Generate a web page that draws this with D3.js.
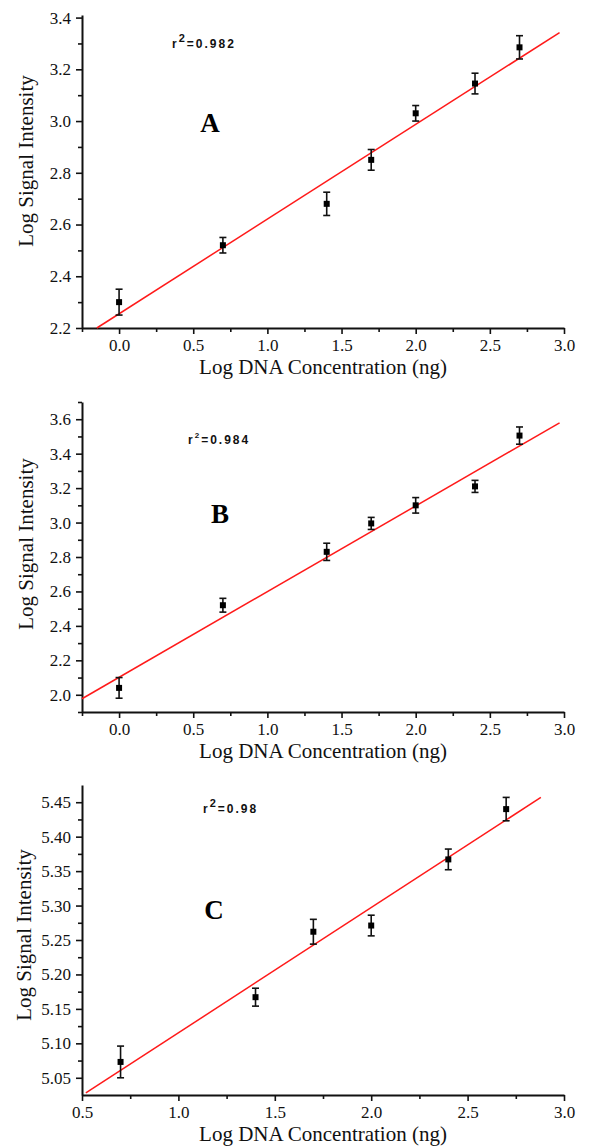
<!DOCTYPE html>
<html>
<head>
<meta charset="utf-8">
<script src="https://cdn.jsdelivr.net/npm/d3@7"></script>
<style>
  body { margin: 0; background: #fff; }
  svg { display: block; }
  .tick text { font-family: "Liberation Serif", "Times New Roman", serif; font-size: 17px; fill: #111; }
  .domain { stroke: #111; stroke-width: 2; }
  .tick line { stroke: #111; stroke-width: 1.6; }
</style>
</head>
<body>
<div id="chart"></div>
<script>
// concentration points (log ng)
var concAB = [0, 0.7, 1.4, 1.7, 2.0, 2.4, 2.7];
var concC = [0.7, 1.4, 1.7, 2.0, 2.4, 2.7];

// log signal intensity
var signalA = [2.30, 2.52, 2.68, 2.85, 3.03, 3.145, 3.285];
var errorA = [0.05, 0.03, 0.045, 0.04, 0.03, 0.04, 0.045];
var signalB = [2.04, 2.52, 2.83, 2.995, 3.10, 3.21, 3.505];
var errorB = [0.06, 0.04, 0.05, 0.035, 0.045, 0.035, 0.05];
var signalC = [5.073, 5.167, 5.262, 5.271, 5.367, 5.440];
var errorC = [0.023, 0.013, 0.018, 0.015, 0.015, 0.017];

// ends of the red fit lines [x, y]
var fitA = [[-0.15, 2.20], [2.97, 3.342]];
var fitB = [[-0.25, 1.977], [2.97, 3.579]];
var fitC = [[0.52, 5.028], [2.88, 5.457]];

// ticks
var xTicksAB = [0, 0.5, 1.0, 1.5, 2.0, 2.5, 3.0];
var xMinorAB = [-0.25, 0.25, 0.75, 1.25, 1.75, 2.25, 2.75];
var xTicksC = [0.5, 1.0, 1.5, 2.0, 2.5, 3.0];
var xMinorC = [0.75, 1.25, 1.75, 2.25, 2.75];
var yTicksA = [2.2, 2.4, 2.6, 2.8, 3.0, 3.2, 3.4];
var yMinorA = [2.3, 2.5, 2.7, 2.9, 3.1, 3.3];
var yTicksB = [2.0, 2.2, 2.4, 2.6, 2.8, 3.0, 3.2, 3.4, 3.6];
var yMinorB = [1.9, 2.1, 2.3, 2.5, 2.7, 2.9, 3.1, 3.3, 3.5, 3.7];
var yTicksC = [5.05, 5.10, 5.15, 5.20, 5.25, 5.30, 5.35, 5.40, 5.45];
var yMinorC = [5.075, 5.125, 5.175, 5.225, 5.275, 5.325, 5.375, 5.425];

var panelNames = ["A", "B", "C"];
var r2Labels = ["0.982", "0.984", "0.98"];

var svg = d3.select("#chart")
    .append("svg")
    .attr("width", 590)
    .attr("height", 1146);

var panels = [
  { name: panelNames[0], r2: r2Labels[0], x: concAB, y: signalA, err: errorA, fit: fitA,
    xDom: [-0.25, 3.0], yDom: [2.2, 3.41], top: 15, bottom: 328,
    xT: xTicksAB, xM: xMinorAB, yT: yTicksA, yM: yMinorA, yFmt: ".1f",
    letterPos: [210, 132], r2Pos: [172, 48], yTitle: [33, 161] },
  { name: panelNames[1], r2: r2Labels[1], x: concAB, y: signalB, err: errorB, fit: fitB,
    xDom: [-0.25, 3.0], yDom: [1.9, 3.7], top: 402, bottom: 712,
    xT: xTicksAB, xM: xMinorAB, yT: yTicksB, yM: yMinorB, yFmt: ".1f",
    letterPos: [220, 523], r2Pos: [188, 444], yTitle: [33, 544] },
  { name: panelNames[2], r2: r2Labels[2], x: concC, y: signalC, err: errorC, fit: fitC,
    xDom: [0.5, 3.0], yDom: [5.025, 5.475], top: 785, bottom: 1095,
    xT: xTicksC, xM: xMinorC, yT: yTicksC, yM: yMinorC, yFmt: ".2f",
    letterPos: [214, 919], r2Pos: [203, 813], yTitle: [31, 935] }
];

var left = 82, right = 564;

panels.forEach(function(p) {
  var x = d3.scaleLinear().domain(p.xDom).range([left, right]);
  var y = d3.scaleLinear().domain(p.yDom).range([p.bottom, p.top]);
  var g = svg.append("g");

  // minor ticks first so the majors sit on top
  g.append("g")
    .attr("transform", "translate(0," + p.bottom + ")")
    .call(d3.axisBottom(x).tickValues(p.xM).tickSize(4).tickFormat(""))
    .select(".domain").remove();
  g.append("g")
    .attr("transform", "translate(" + left + ",0)")
    .call(d3.axisLeft(y).tickValues(p.yM).tickSize(4).tickFormat(""))
    .select(".domain").remove();

  g.append("g")
    .attr("transform", "translate(0," + p.bottom + ")")
    .call(d3.axisBottom(x).tickValues(p.xT).tickSize(6).tickSizeOuter(0).tickPadding(5).tickFormat(d3.format(".1f")));
  g.append("g")
    .attr("transform", "translate(" + left + ",0)")
    .call(d3.axisLeft(y).tickValues(p.yT).tickSize(6).tickSizeOuter(0).tickPadding(5).tickFormat(d3.format(p.yFmt)));

  // fit line
  g.append("path")
    .datum(p.fit)
    .attr("d", d3.line().x(function(d) { return x(d[0]); }).y(function(d) { return y(d[1]); }))
    .attr("fill", "none")
    .attr("stroke", "#ff1a1a")
    .attr("stroke-width", 1.5);

  var pts = p.x.map(function(v, i) { return { x: v, y: p.y[i], e: p.err[i] }; });

  var bars = g.selectAll(".err")
    .data(pts)
    .enter()
    .append("g")
    .attr("class", "err");
  bars.append("line")
    .attr("x1", function(d) { return x(d.x); })
    .attr("x2", function(d) { return x(d.x); })
    .attr("y1", function(d) { return y(d.y - d.e); })
    .attr("y2", function(d) { return y(d.y + d.e); })
    .attr("stroke", "#111").attr("stroke-width", 1.6);
  [-1, 1].forEach(function(s) {
    bars.append("line")
      .attr("x1", function(d) { return x(d.x) - 3.5; })
      .attr("x2", function(d) { return x(d.x) + 3.5; })
      .attr("y1", function(d) { return y(d.y + s * d.e); })
      .attr("y2", function(d) { return y(d.y + s * d.e); })
      .attr("stroke", "#111").attr("stroke-width", 1.6);
  });

  g.selectAll(".pt")
    .data(pts)
    .enter()
    .append("rect")
    .attr("x", function(d) { return x(d.x) - 3; })
    .attr("y", function(d) { return y(d.y) - 3; })
    .attr("width", 6)
    .attr("height", 6)
    .attr("fill", "#000");

  // titles
  g.append("text")
    .attr("transform", "translate(" + p.yTitle[0] + "," + p.yTitle[1] + ") rotate(-90)")
    .attr("text-anchor", "middle")
    .style("font-family", "'Liberation Serif', 'Times New Roman', serif")
    .style("font-size", "21px")
    .attr("fill", "#111")
    .text("Log Signal Intensity");

  g.append("text")
    .attr("x", (left + right) / 2)
    .attr("y", p.bottom + 46)
    .attr("text-anchor", "middle")
    .style("font-family", "'Liberation Serif', 'Times New Roman', serif")
    .style("font-size", "21px")
    .attr("fill", "#111")
    .text("Log DNA Concentration (ng)");

  g.append("text")
    .attr("x", p.letterPos[0])
    .attr("y", p.letterPos[1])
    .attr("text-anchor", "middle")
    .style("font-family", "'Liberation Serif', 'Times New Roman', serif")
    .style("font-size", "27px")
    .style("font-weight", "bold")
    .attr("fill", "#000")
    .text(p.name);

  var r2 = g.append("text")
    .attr("x", p.r2Pos[0])
    .attr("y", p.r2Pos[1])
    .style("font-family", "'Liberation Sans', Arial, sans-serif")
    .style("font-size", "12px")
    .style("font-weight", "bold")
    .style("letter-spacing", "2px")
    .attr("fill", "#111");
  r2.append("tspan").text("r");
  r2.append("tspan").attr("dy", -6).style("font-size", p.name == "B" ? "8px" : "11px").text("2");
  r2.append("tspan").attr("dy", 6).text("=" + p.r2);
});
</script>
</body>
</html>
